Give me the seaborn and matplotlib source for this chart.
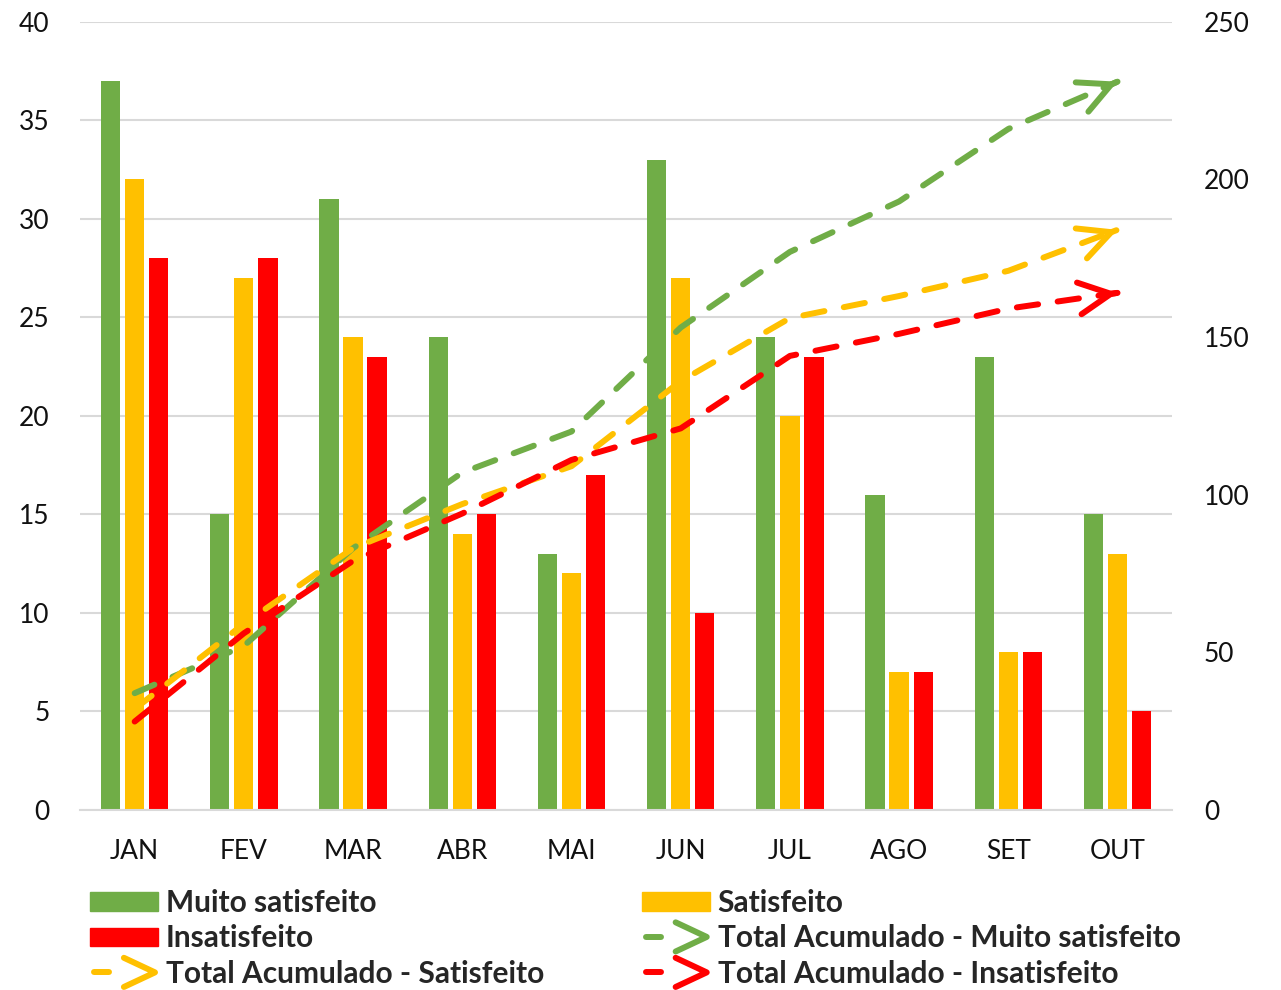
import numpy as np
import pandas as pd
import matplotlib
matplotlib.use("Agg")
import matplotlib.pyplot as plt
import seaborn as sns
from matplotlib.lines import Line2D
from matplotlib.patches import Patch
from matplotlib.legend_handler import HandlerBase

meses = ["JAN", "FEV", "MAR", "ABR", "MAI", "JUN", "JUL", "AGO", "SET", "OUT"]
muito_satisfeito = [37, 15, 31, 24, 13, 33, 24, 16, 23, 15]
satisfeito = [32, 27, 24, 14, 12, 27, 20, 7, 8, 13]
insatisfeito = [28, 28, 23, 15, 17, 10, 23, 7, 8, 5]

series = ["Muito satisfeito", "Satisfeito", "Insatisfeito"]
cores = ["#70AD47", "#FFC000", "#FF0000"]

"""long table for seaborn"""
df = pd.DataFrame({
    "mes": meses * 3,
    "valor": muito_satisfeito + satisfeito + insatisfeito,
    "serie": np.repeat(series, len(meses)),
})

"""running totals of each series"""
acumulado = [np.cumsum(v) for v in (muito_satisfeito, satisfeito, insatisfeito)]

sns.set_style("white")
plt.rcParams["font.family"] = ["Lato", "DejaVu Sans"]

fig, ax = plt.subplots(figsize=(12.81, 9.9), dpi=100)
fig.subplots_adjust(left=0.0625, right=0.915, top=0.978, bottom=0.182)

sns.barplot(data=df, x="mes", y="valor", hue="serie", palette=cores,
            saturation=1, width=0.66, gap=0.2, linewidth=0, legend=False, ax=ax)

ax.set_ylim(0, 40)
ax.set_yticks(range(0, 41, 5))
ax.set_xlim(-0.5, 9.5)
ax.grid(axis="y", color="#D9D9D9", linewidth=1.5)
ax.set_axisbelow(True)
ax.set_xlabel("")
ax.set_ylabel("")
ax.tick_params(axis="both", length=0, labelsize=19, colors="#111111")
ax.tick_params(axis="y", pad=22)
ax.tick_params(axis="x", pad=21)
for s in ["top", "left", "right"]:
    ax.spines[s].set_visible(False)
ax.spines["bottom"].set_color("#D9D9D9")
ax.spines["bottom"].set_linewidth(1.5)

ax2 = ax.twinx()
x = np.arange(len(meses))
for cum, cor in zip(acumulado, cores):
    sns.lineplot(x=x, y=cum, color=cor, linewidth=4.3, ax=ax2)
    ln = ax2.lines[-1]
    ln.set_dashes((3.6, 3.3))
    ln.set_dash_capstyle("round")
    start = (x[-2] + 0.99 * (x[-1] - x[-2]), cum[-2] + 0.99 * (cum[-1] - cum[-2]))
    ax2.annotate("", xy=(x[-1], cum[-1]), xytext=start,
                 arrowprops=dict(arrowstyle="->,head_length=23,head_width=11.5",
                                 mutation_scale=1, color=cor, lw=4.3,
                                 shrinkA=0, shrinkB=0,
                                 capstyle="round", joinstyle="round"))

ax2.set_ylim(0, 250)
ax2.set_yticks(range(0, 251, 50))
ax2.set_xlim(-0.5, 9.5)
ax2.set_ylabel("")
ax2.tick_params(axis="y", length=0, labelsize=19, colors="#111111", pad=23)
for s in ["top", "left", "right", "bottom"]:
    ax2.spines[s].set_visible(False)


class SetaHandler(HandlerBase):
    def create_artists(self, legend, orig_handle, xdescent, ydescent,
                       width, height, fontsize, trans):
        cor = orig_handle.get_color()
        cy = height / 2 - ydescent
        x0 = -xdescent
        traco = Line2D([x0 + 3, x0 + 0.28 * width], [cy, cy], color=cor, lw=4.3,
                       solid_capstyle="round", transform=trans)
        seta = Line2D([x0 + 0.5 * width, x0 + width - 2, x0 + 0.5 * width],
                      [cy + 10.5, cy, cy - 10.5], color=cor, lw=4.3,
                      solid_capstyle="round", solid_joinstyle="round",
                      transform=trans)
        return [traco, seta]


h_barras = [Patch(color=c) for c in cores]
h_linhas = [Line2D([], [], color=c) for c in cores]
rotulos_linhas = ["Total Acumulado - " + s for s in series]

handles = [h_barras[0], h_barras[2], h_linhas[1], h_barras[1], h_linhas[0], h_linhas[2]]
labels = [series[0], series[2], rotulos_linhas[1], series[1], rotulos_linhas[0], rotulos_linhas[2]]

fig.legend(handles, labels, ncol=2, loc="upper left",
           bbox_to_anchor=(90 / 1281, 1 - 889 / 990), frameon=False,
           prop={"weight": "bold", "size": 21.5}, handlelength=2.27,
           handleheight=0.57, handletextpad=0.27, labelspacing=0.25,
           columnspacing=3.27, borderpad=0, borderaxespad=0,
           handler_map={Line2D: SetaHandler()})

plt.savefig("out.png", dpi=100)
